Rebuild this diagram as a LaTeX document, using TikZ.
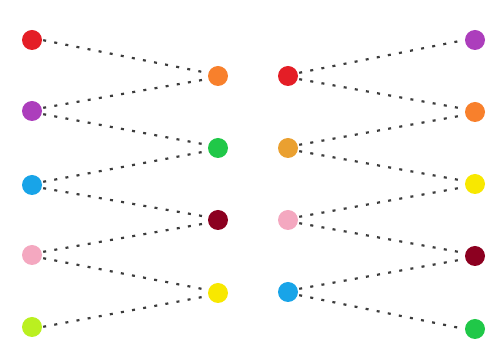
\documentclass[tikz,border=0pt]{standalone}
\usetikzlibrary{positioning}
\definecolor{dotred}{RGB}{228,30,38}
\definecolor{dotpurple}{RGB}{172,62,188}
\definecolor{dotblue}{RGB}{24,164,232}
\definecolor{dotpink}{RGB}{244,168,192}
\definecolor{dotlime}{RGB}{186,240,32}
\definecolor{dotorange}{RGB}{248,128,44}
\definecolor{dotgold}{RGB}{234,160,48}
\definecolor{dotgreen}{RGB}{32,200,72}
\definecolor{dotmaroon}{RGB}{140,0,32}
\definecolor{dotyellow}{RGB}{248,232,0}
\definecolor{tiegray}{RGB}{60,60,60}
\tikzset{
  ball/.style={circle,fill=#1,minimum size=20pt,inner sep=0pt},
  tie/.style={draw=tiegray,line width=2.2pt,dash pattern=on 3pt off 8.3pt,shorten <=1pt,shorten >=1pt}
}

\begin{document}
\begin{tikzpicture}[x=1pt,y=-1pt]
\useasboundingbox (0,0) rectangle (491,344);
% left half
\node[ball=dotred]    (l1) at (32,40)  {};
\node[ball=dotpurple] (l2) at (32,111) {};
\node[ball=dotblue]   (l3) at (32,185) {};
\node[ball=dotpink]   (l4) at (32,255) {};
\node[ball=dotlime]   (l5) at (32,327) {};
\node[ball=dotorange] (m1) at (218,76)  {};
\node[ball=dotgreen]  (m2) at (218,148) {};
\node[ball=dotmaroon] (m3) at (218,220) {};
\node[ball=dotyellow] (m4) at (218,293) {};
% right half
\node[ball=dotred]    (n1) at (288,76)  {};
\node[ball=dotgold]   (n2) at (288,148) {};
\node[ball=dotpink]   (n3) at (288,220) {};
\node[ball=dotblue]   (n4) at (288,292) {};
\node[ball=dotpurple] (r1) at (475,40)  {};
\node[ball=dotorange] (r2) at (475,112) {};
\node[ball=dotyellow] (r3) at (475,184) {};
\node[ball=dotmaroon] (r4) at (475,256) {};
\node[ball=dotgreen]  (r5) at (475,329) {};

\draw[tie] (l1.east) -- ([yshift=3pt]m1.west);
\draw[tie] ([yshift=3pt]l2.east) -- ([yshift=-3pt]m1.west);
\draw[tie] ([yshift=-3pt]l2.east) -- ([yshift=3pt]m2.west);
\draw[tie] ([yshift=3pt]l3.east) -- ([yshift=-3pt]m2.west);
\draw[tie] ([yshift=-3pt]l3.east) -- ([yshift=3pt]m3.west);
\draw[tie] ([yshift=3pt]l4.east) -- ([yshift=-3pt]m3.west);
\draw[tie] ([yshift=-3pt]l4.east) -- ([yshift=3pt]m4.west);
\draw[tie] (l5.east) -- ([yshift=-3pt]m4.west);

\draw[tie] ([yshift=3pt]n1.east) -- (r1.west);
\draw[tie] ([yshift=-3pt]n1.east) -- ([yshift=3pt]r2.west);
\draw[tie] ([yshift=3pt]n2.east) -- ([yshift=-3pt]r2.west);
\draw[tie] ([yshift=-3pt]n2.east) -- ([yshift=3pt]r3.west);
\draw[tie] ([yshift=3pt]n3.east) -- ([yshift=-3pt]r3.west);
\draw[tie] ([yshift=-3pt]n3.east) -- ([yshift=3pt]r4.west);
\draw[tie] ([yshift=3pt]n4.east) -- ([yshift=-3pt]r4.west);
\draw[tie] ([yshift=-3pt]n4.east) -- (r5.west);
\end{tikzpicture}
\end{document}
